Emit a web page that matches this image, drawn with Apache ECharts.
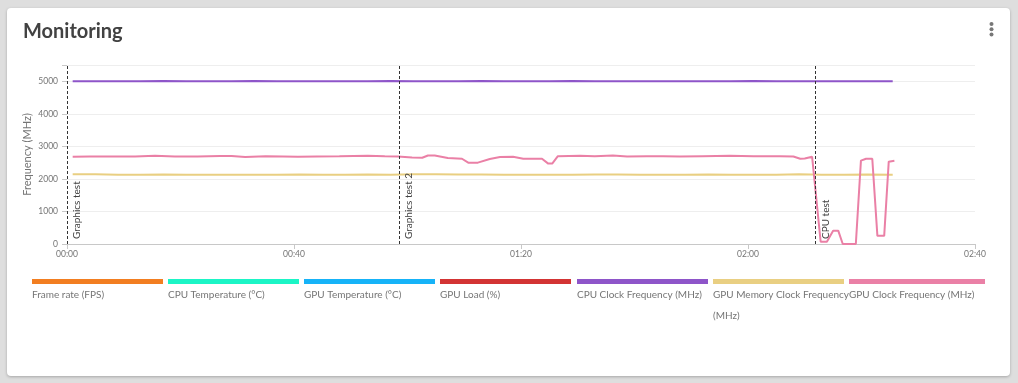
<!DOCTYPE html>
<html><head><meta charset="utf-8">
<script src="https://cdn.jsdelivr.net/npm/echarts@6/dist/echarts.min.js"></script>
<style>
html,body{margin:0;padding:0;width:1018px;height:383px;background:#dedede;overflow:hidden}
#card{position:absolute;left:7px;top:8px;width:1003px;height:368px;background:#fff;border-radius:4px;box-shadow:0 1px 3px rgba(0,0,0,0.25)}
#chart{position:absolute;left:0;top:0;width:1018px;height:383px}
</style></head><body>
<div id="card"></div><div id="chart"></div>
<script>
const seriesNames = ['Frame rate (FPS)','CPU Temperature (°C)','GPU Temperature (°C)','GPU Load (%)','CPU Clock Frequency (MHz)','GPU Memory Clock Frequency (MHz)','GPU Clock Frequency (MHz)'];
const seriesColors = ['#f27e21','#1cf5c6','#16b3f8','#d33434','#8e55c9','#e9cf82','#ea80a6'];
const xTickLabels = ['00:00','00:40','01:20','02:00','02:40'];
const yTickLabels = [0,1000,2000,3000,4000,5000];

// time (s) and values
const cpuClockT = [1,5,9,13,17,21,25,29,33,37,41,45,49,53,57,61,65,69,73,77,81,85,89,93,97,101,105,109,113,117,121,125,129,133,137,141,145.5];
const cpuClockV = [5000,5000,5000,5000,5010,5000,5000,5000,5010,5000,5000,5000,5000,5000,5010,5000,5000,5000,5010,5000,5000,5000,5010,5000,5000,5000,5000,5000,5000,5000,5010,5000,5000,5000,5000,5000,5000];
const gpuMemT = [1,5,9,13,17,21,25,29,33,37,41,45,49,53,57,61,65,69,73,77,81,85,89,93,97,101,105,109,113,117,121,125,129,133,137,141,145.5];
const gpuMemV = [2140,2140,2130,2130,2135,2130,2130,2125,2130,2130,2135,2130,2130,2135,2130,2140,2140,2135,2135,2130,2130,2125,2130,2135,2135,2130,2130,2125,2135,2130,2130,2130,2140,2130,2130,2135,2130];
const gpuClockT = [1,4,8,12,15.5,19,23,27,29,31.4,35,38,40.7,44,48,53,56,58.3,60.8,62.6,63.6,64.8,67.1,69.6,70.7,72.4,74.5,76.3,78.6,80.4,83.7,84.8,85.5,86.5,90.4,93,96.2,98.7,102.2,105,108,112,116.8,121,125.6,128,129.2,130,131.3,132.8,133.9,135,135.9,136.7,139,139.9,140.8,141.9,142.8,144,144.8,145.8];
const gpuClockV = [2680,2690,2690,2690,2710,2690,2685,2705,2705,2670,2700,2690,2680,2690,2695,2715,2695,2690,2660,2650,2720,2720,2640,2620,2500,2500,2610,2670,2680,2620,2620,2470,2470,2700,2710,2700,2720,2690,2700,2695,2690,2700,2710,2700,2700,2690,2620,2630,2680,70,70,410,410,0,0,2560,2620,2620,250,250,2530,2560];

const markerNames = ['Graphics test','Graphics test 2','CPU test'];
const markerTimes = [0,58.5,131.9];

const legendLeft = [32,168,304,440,577,713,849];
const legendBarWidth = [131,131,131,131,131,131,136];
const legendLines = [['Frame rate (FPS)'],['CPU Temperature (°C)'],['GPU Temperature (°C)'],['GPU Load (%)'],['CPU Clock Frequency (MHz)'],['GPU Memory Clock Frequency','(MHz)'],['GPU Clock Frequency (MHz)']];

function pairs(t, v){ return t.map((x,i)=>[x, v[i]]); }
function fmtTime(s){ const m=Math.floor(s/60), r=Math.round(s%60); return String(m).padStart(2,'0')+':'+String(r).padStart(2,'0'); }

const dataByName = {
  'CPU Clock Frequency (MHz)': pairs(cpuClockT, cpuClockV),
  'GPU Memory Clock Frequency (MHz)': pairs(gpuMemT, gpuMemV),
  'GPU Clock Frequency (MHz)': pairs(gpuClockT, gpuClockV)
};

const FONT = 'Lato';
const chart = echarts.init(document.getElementById('chart'));
const legends = seriesNames.map((n,i)=>({
  left: legendLeft[i]-5, top: 279, padding: 0, itemWidth: 0, itemHeight: 0, icon: 'rect',
  selectedMode: false,
  data: [n],
  formatter: () => '{bar| }\n' + legendLines[i].map(l=>'{t|'+l+'}').join('\n'),
  textStyle: { rich: {
    bar: { width: legendBarWidth[i], height: 5, lineHeight: 5, fontSize: 1, backgroundColor: seriesColors[i] },
    t: { fontSize: 10, lineHeight: 21, color: '#757575', fontFamily: FONT }
  } }
}));

const series = seriesNames.map((n,i)=>{
  const s = {
    name: n, type: 'line', data: dataByName[n] || [], showSymbol: false, symbol: 'none',
    lineStyle: { width: 2, color: seriesColors[i] }, itemStyle: { color: seriesColors[i] }
  };
  if (n === 'GPU Clock Frequency (MHz)') {
    s.markLine = {
      silent: true, symbol: ['none','none'],
      lineStyle: { type: [3,2], color: '#333', width: 1 },
      label: { show: true, formatter: '{b}', position: 'insideStartBottom', color: '#424242', fontSize: 10, fontFamily: FONT, distance: 5 },
      data: markerNames.map((m,k)=>({ name: m, xAxis: markerTimes[k] }))
    };
  }
  return s;
});

chart.setOption({
  animation: false,
  title: { text: 'Monitoring', left: 23, top: 22, padding: 0, textStyle: { fontSize: 20, fontWeight: 'bold', color: '#424242', fontFamily: FONT } },
  graphic: [0,1,2].map(k=>({ type: 'circle', shape: { cx: 991.5, cy: 24 + k*5.3, r: 2 }, style: { fill: '#777' } })),
  legend: legends,
  grid: { left: 67, right: 43, top: 65, bottom: 139 },
  xAxis: {
    type: 'value', min: 0, max: 160, interval: 40,
    splitLine: { show: false },
    axisLine: { lineStyle: { color: '#c8c8c8' } },
    axisTick: { show: true, length: 5, lineStyle: { color: '#c8c8c8' } },
    axisLabel: { fontSize: 8.5, color: '#757575', fontFamily: FONT, margin: 6,
      formatter: v => xTickLabels[Math.round(v/40)] || fmtTime(v) }
  },
  yAxis: {
    type: 'value', min: 0, max: 5500, interval: 500,
    name: 'Frequency (MHz)', nameLocation: 'middle', nameGap: 34, nameMoveOverlap: false,
    nameTextStyle: { fontSize: 11, color: '#757575', fontFamily: FONT },
    axisLine: { show: false },
    axisTick: { show: true, length: 5, lineStyle: { color: '#c8c8c8' }, customValues: yTickLabels.concat([5500]) },
    axisLabel: { fontSize: 8.5, color: '#757575', fontFamily: FONT, margin: 9, customValues: yTickLabels, formatter: v => String(v) },
    splitLine: { lineStyle: { color: '#eeeeee' } }
  },
  series: series
});
</script></body></html>
